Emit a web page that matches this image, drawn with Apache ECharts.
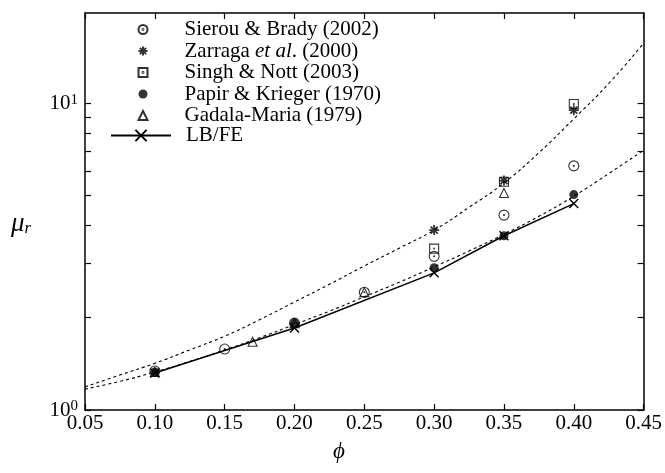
<!DOCTYPE html>
<html>
<head>
<meta charset="utf-8">
<script src="https://cdn.jsdelivr.net/npm/echarts@6/dist/echarts.min.js"></script>
<style>
  html, body { margin: 0; padding: 0; background: #fff; }
  #chart { width: 665px; height: 473px; }
</style>
</head>
<body>
<div id="chart"></div>
<script>
// axis ticks
const xTicks = [0.05, 0.10, 0.15, 0.20, 0.25, 0.30, 0.35, 0.40, 0.45];
const yLabelTicks = [1, 10];
const yTicks = [1, 2, 3, 4, 5, 6, 7, 8, 9, 10];

// measured points
const sierouPhi = [0.10, 0.15, 0.20, 0.25, 0.30, 0.35, 0.40];
const sierouMu = [1.34, 1.58, 1.92, 2.42, 3.17, 4.32, 6.25];
const zarragaPhi = [0.30, 0.35, 0.40];
const zarragaMu = [3.86, 5.6, 9.5];
const singhPhi = [0.30, 0.35, 0.40];
const singhMu = [3.36, 5.55, 9.95];
const papirPhi = [0.10, 0.20, 0.30, 0.35, 0.40];
const papirMu = [1.33, 1.92, 2.91, 3.70, 5.04];
const gadalaPhi = [0.10, 0.17, 0.20, 0.25, 0.35];
const gadalaMu = [1.33, 1.67, 1.92, 2.42, 5.1];
const lbfePhi = [0.10, 0.20, 0.30, 0.35, 0.40];
const lbfeMu = [1.32, 1.85, 2.80, 3.70, 4.71];

// the two dotted correlation curves
const curvePhi = [0.05, 0.075, 0.10, 0.125, 0.15, 0.175, 0.20, 0.225, 0.25, 0.275, 0.30, 0.325, 0.35, 0.375, 0.40, 0.425, 0.45];
const upperMu = [1.19, 1.30, 1.42, 1.57, 1.74, 1.97, 2.25, 2.57, 2.95, 3.37, 3.86, 4.58, 5.5, 6.9, 8.9, 11.6, 15.7];
const lowerMu = [1.17, 1.24, 1.33, 1.44, 1.57, 1.72, 1.90, 2.10, 2.34, 2.61, 2.93, 3.30, 3.74, 4.28, 4.98, 5.9, 7.03];

const pairs = (xs, ys) => xs.map((x, i) => [x, ys[i]]);

const circleDot = 'path://M0 -10 A10 10 0 1 1 0 10 A10 10 0 1 1 0 -10 Z M0 -1 A1 1 0 1 1 0 1 A1 1 0 1 1 0 -1 Z';
const squareDot = 'path://M-10 -10 L10 -10 L10 10 L-10 10 Z M0 -1 A1 1 0 1 1 0 1 A1 1 0 1 1 0 -1 Z';
const asterisk = 'path://M-10 0 L10 0 M0 -10 L0 10 M-7 -7 L7 7 M-7 7 L7 -7';
const cross = 'path://M-10 -10 L10 10 M-10 10 L10 -10';

const serif = 'Liberation Serif';
const openStyle = { color: 'none', borderColor: '#000', borderWidth: 1.1 };

const chart = echarts.init(document.getElementById('chart'));

const xAxisBase = {
  type: 'value', min: 0.05, max: 0.45, interval: 0.05,
  splitLine: { show: false },
  axisLine: { lineStyle: { color: '#000', width: 1.5 } },
  axisTick: { inside: true, length: 6, lineStyle: { color: '#000', width: 1.2 } }
};
const yAxisBase = {
  type: 'log', logBase: 10, min: 1, max: 19.7,
  splitLine: { show: false },
  axisLine: { lineStyle: { color: '#000', width: 1.5 } },
  axisTick: { inside: true, length: 6, customValues: yTicks, lineStyle: { color: '#000', width: 1.2 } }
};

chart.setOption({
  animation: false,
  backgroundColor: '#fff',
  grid: { left: 85, right: 18, top: 13, bottom: 63 },
  xAxis: [
    Object.assign({}, xAxisBase, {
      position: 'bottom',
      axisLabel: {
        margin: 3, fontFamily: serif, fontSize: 21, color: '#000',
        formatter: v => v.toFixed(2)
      }
    }),
    Object.assign({}, xAxisBase, { position: 'top', axisLabel: { show: false } })
  ],
  yAxis: [
    Object.assign({}, yAxisBase, {
      position: 'left',
      axisLabel: {
        customValues: yLabelTicks, margin: 7, color: '#000',
        formatter: v => '{b|10}{s|' + Math.round(Math.log10(v)) + '}',
        rich: {
          b: { fontFamily: serif, fontSize: 21, lineHeight: 22, color: '#000' },
          s: { fontFamily: serif, fontSize: 15, lineHeight: 15, verticalAlign: 'top', color: '#000' }
        }
      }
    }),
    Object.assign({}, yAxisBase, { position: 'right', axisLabel: { show: false } })
  ],
  legend: [
    {
      orient: 'vertical', left: 136, top: 19, padding: 0,
      itemWidth: 9, itemHeight: 9, itemGap: 0.5,
      data: ['Sierou & Brady (2002)', 'Zarraga et al. (2000)', 'Singh & Nott (2003)', 'Papir & Krieger (1970)', 'Gadala-Maria (1979)'],
      formatter: name => name.startsWith('Zarraga')
        ? '{n|Zarraga }{i|et al}{n|. (2000)}'
        : '{n|' + name + '}',
      textStyle: {
        padding: [0, 0, 0, 32],
        rich: {
          n: { fontFamily: serif, fontSize: 21, lineHeight: 20, color: '#000' },
          i: { fontFamily: serif, fontSize: 21, lineHeight: 20, fontStyle: 'italic', color: '#000' }
        }
      }
    },
    {
      orient: 'vertical', left: 110, top: 125, padding: 0,
      itemWidth: 60, itemHeight: 14,
      data: ['LB/FE'],
      textStyle: { padding: [0, 0, 0, 10], fontFamily: serif, fontSize: 21, lineHeight: 20, color: '#000' }
    }
  ],
  graphic: [
    {
      type: 'text', left: 11, top: 210,
      style: {
        text: '{m|μ}{r|r}',
        rich: {
          m: { fontFamily: serif, fontSize: 27, fontStyle: 'italic', fill: '#000', lineHeight: 27 },
          r: { fontFamily: serif, fontSize: 17, fontStyle: 'italic', fill: '#000', lineHeight: 17, verticalAlign: 'bottom', padding: [10, 0, 0, 0] }
        }
      }
    },
    {
      type: 'text', left: 333, top: 440,
      style: { text: 'ϕ', font: 'italic 23px "Liberation Serif"', fill: '#000' }
    }
  ],
  series: [
    {
      name: 'upper', type: 'line', data: pairs(curvePhi, upperMu), smooth: true,
      showSymbol: false, silent: true,
      lineStyle: { color: '#000', width: 1.1, type: [3, 3] }
    },
    {
      name: 'lower', type: 'line', data: pairs(curvePhi, lowerMu), smooth: true,
      showSymbol: false, silent: true,
      lineStyle: { color: '#000', width: 1.1, type: [3, 3] }
    },
    {
      name: 'LB/FE', type: 'line', data: pairs(lbfePhi, lbfeMu),
      symbol: cross, symbolSize: 9,
      lineStyle: { color: '#000', width: 1.5 },
      itemStyle: { color: 'none', borderColor: '#000', borderWidth: 1.4 }
    },
    {
      name: 'Sierou & Brady (2002)', type: 'scatter', data: pairs(sierouPhi, sierouMu),
      symbol: circleDot, symbolSize: 10, itemStyle: openStyle
    },
    {
      name: 'Zarraga et al. (2000)', type: 'scatter', data: pairs(zarragaPhi, zarragaMu),
      symbol: asterisk, symbolSize: 10, itemStyle: { color: 'none', borderColor: '#000', borderWidth: 1.8 }
    },
    {
      name: 'Singh & Nott (2003)', type: 'scatter', data: pairs(singhPhi, singhMu),
      symbol: squareDot, symbolSize: 9, itemStyle: openStyle
    },
    {
      name: 'Papir & Krieger (1970)', type: 'scatter', data: pairs(papirPhi, papirMu),
      symbol: 'circle', symbolSize: 9, itemStyle: { color: '#000' }
    },
    {
      name: 'Gadala-Maria (1979)', type: 'scatter', data: pairs(gadalaPhi, gadalaMu),
      symbol: 'triangle', symbolSize: 9, itemStyle: openStyle
    }
  ]
});
</script>
</body>
</html>
